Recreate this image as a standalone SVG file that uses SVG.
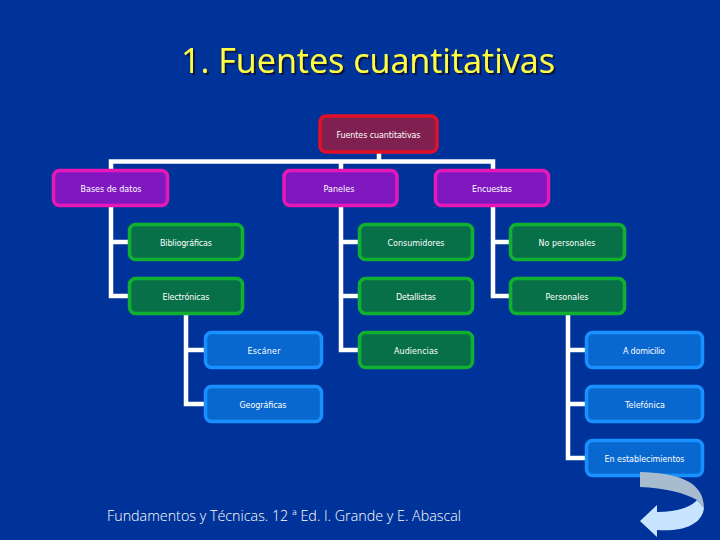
<svg xmlns="http://www.w3.org/2000/svg" width="720" height="540" viewBox="0 0 720 540">
<defs>
<filter id="shadow" x="-5%" y="-20%" width="110%" height="140%"><feDropShadow dx="2" dy="2" stdDeviation="0.6" flood-color="#101840"/></filter>
</defs>
<style>
.bg{fill:#003399}
.n rect{stroke-width:3.5}
.root rect{fill:#802050;stroke:#e01028}
.l1 rect{fill:#8018c0;stroke:#e818b8}
.l2 rect{fill:#087048;stroke:#10b030}
.l3 rect{fill:#0868d0;stroke:#1890ff}
.n text{font-family:"DejaVu Sans",sans-serif;font-size:8px;fill:#fff;text-anchor:middle}
#connectors path{fill:none;stroke:#fff;stroke-width:4.5}
.title{font-family:"Open Sans","DejaVu Sans",sans-serif;font-size:35px;fill:#ffff40;filter:url(#shadow)}
.foot{font-family:"Open Sans","DejaVu Sans",sans-serif;font-weight:300;font-size:14px;fill:#fff}
</style>
<rect class="bg" width="720" height="540"/>
<text class="title" x="181" y="73" textLength="374" lengthAdjust="spacingAndGlyphs">1. Fuentes cuantitativas</text>
<g id="connectors">
<path d="M379 153V161.500M111 169V161.500H493V169M341 161.500V169"/>
<path d="M111 207V296H128M111 242H128"/>
<path d="M341 207V350H358M341 242H358M341 296H358"/>
<path d="M493 207V296H509M493 242H509"/>
<path d="M186 315V404H204M186 350H204"/>
<path d="M568 315V458H585M568 350H585M568 404H585"/>
</g>
<g id="root" class="n root"><rect x="320" y="116" width="117" height="36" rx="6"/><text x="378.500" y="138" textLength="84">Fuentes cuantitativas</text></g>
<g id="bases" class="n l1"><rect x="53.500" y="170.500" width="114" height="35" rx="6"/><text x="111" y="192" textLength="61">Bases de datos</text></g>
<g id="paneles" class="n l1"><rect x="284" y="170.500" width="113" height="35" rx="6"/><text x="339" y="192" textLength="31">Paneles</text></g>
<g id="encuestas" class="n l1"><rect x="435.500" y="170.500" width="113" height="35" rx="6"/><text x="492" y="192" textLength="40">Encuestas</text></g>
<g id="bibliograficas" class="n l2"><rect x="129.500" y="224.500" width="113" height="35" rx="6"/><text x="186" y="246" textLength="52">Bibliográficas</text></g>
<g id="electronicas" class="n l2"><rect x="129.500" y="278.500" width="113" height="35" rx="6"/><text x="186" y="300" textLength="47">Electrónicas</text></g>
<g id="consumidores" class="n l2"><rect x="359.500" y="224.500" width="113" height="35" rx="6"/><text x="416" y="246" textLength="57">Consumidores</text></g>
<g id="detallistas" class="n l2"><rect x="359.500" y="278.500" width="113" height="35" rx="6"/><text x="416" y="300" textLength="40">Detallistas</text></g>
<g id="audiencias" class="n l2"><rect x="359.500" y="332.500" width="113" height="35" rx="6"/><text x="416" y="354" textLength="44">Audiencias</text></g>
<g id="nopersonales" class="n l2"><rect x="510.500" y="224.500" width="114" height="35" rx="6"/><text x="567" y="246" textLength="57">No personales</text></g>
<g id="personales" class="n l2"><rect x="510.500" y="278.500" width="114" height="35" rx="6"/><text x="567" y="300" textLength="43">Personales</text></g>
<g id="escaner" class="n l3"><rect x="205.500" y="332.500" width="116" height="35" rx="6"/><text x="264" y="354" textLength="33">Escáner</text></g>
<g id="geograficas" class="n l3"><rect x="205.500" y="386.500" width="116" height="35" rx="6"/><text x="263" y="408" textLength="47">Geográficas</text></g>
<g id="domicilio" class="n l3"><rect x="586.500" y="332.500" width="116" height="35" rx="6"/><text x="644" y="354" textLength="42">A domicilio</text></g>
<g id="telefonica" class="n l3"><rect x="586.500" y="386.500" width="116" height="35" rx="6"/><text x="645" y="408" textLength="40">Telefónica</text></g>
<g id="establecimientos" class="n l3"><rect x="586.500" y="440.500" width="116" height="35" rx="6"/><text x="644.500" y="462" textLength="80">En establecimientos</text></g>
<text class="foot" x="107" y="521" textLength="354" lengthAdjust="spacingAndGlyphs">Fundamentos y Técnicas. 12 ª Ed. I. Grande y E. Abascal</text>
<path d="M640 472C675 473 704 480 704 508L697 500C685 493 665 488 640 487Z" fill="#a8bcd0"/>
<path d="M704 508C702 525 682 532 657 530V537L640 521L657 505V512C675 512 690 508 697 500Z" fill="#c8e4ff"/>
</svg>
